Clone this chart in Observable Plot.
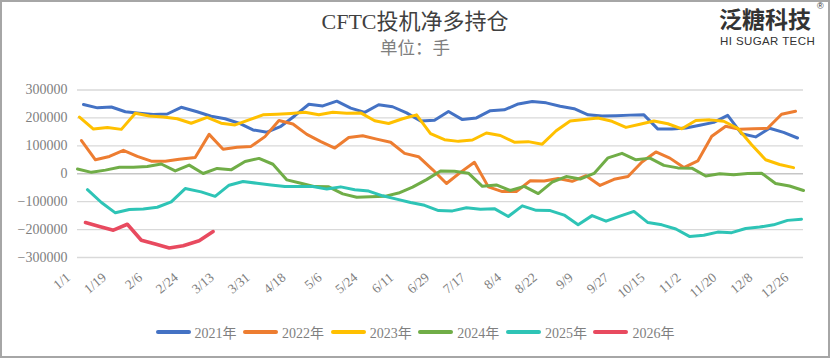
<!DOCTYPE html>
<html><head><meta charset="utf-8">
<script src="https://cdn.jsdelivr.net/npm/d3@7"></script>
<script src="https://cdn.jsdelivr.net/npm/@observablehq/plot@0.6"></script>
<style>
html,body{margin:0;padding:0;background:#fff;}
#frame{position:relative;width:830px;height:358px;overflow:hidden;background:#fff;}
#border{position:absolute;left:0;top:0;width:830px;height:358px;box-sizing:border-box;border:2px solid #a6a6a6;pointer-events:none;z-index:5;}
#title{position:absolute;left:0;width:830px;top:9px;text-align:center;font-family:"Liberation Serif","Noto Sans CJK SC",serif;font-size:22px;line-height:26px;color:#404040;}
#subtitle{position:absolute;left:0;width:830px;top:38px;text-align:center;font-family:"Liberation Serif","Noto Sans CJK SC",serif;font-size:17.5px;line-height:20px;color:#7f7f7f;}
#logo1{position:absolute;left:719px;top:6px;font-family:"Noto Sans CJK SC",sans-serif;font-weight:bold;font-size:23px;line-height:24px;color:#333;}
#logo2{position:absolute;left:720px;top:35px;font-family:"Liberation Sans",Arial,sans-serif;font-size:11.5px;line-height:12px;color:#333;letter-spacing:0.4px;}
#reg{position:absolute;left:817px;top:1px;font-family:"Liberation Sans",sans-serif;font-size:9px;line-height:10px;color:#333;}
#chart{position:absolute;left:0;top:60px;}
#legend{position:absolute;left:0;width:830px;top:323px;height:18px;display:flex;justify-content:center;align-items:center;font-family:"Liberation Serif","Noto Sans CJK SC",serif;font-size:14px;color:#7f7f7f;}
.item{display:flex;align-items:center;margin:0 3.3px;}
.sw{display:inline-block;width:35px;height:4px;border-radius:2px;margin-right:4px;}
</style></head>
<body>
<div id="frame">
  <div id="title">CFTC投机净多持仓</div>
  <div id="subtitle">单位：手</div>
  <div id="logo1">泛糖科技</div>
  <div id="logo2">HI SUGAR TECH</div>
  <div id="reg">®</div>
  <div id="chart"></div>
  <div id="legend"></div>
  <div id="border"></div>
</div>
<script>
const years = ["2021年","2022年","2023年","2024年","2025年","2026年"];
const colors = ["#4472C4","#ED7D31","#FFC000","#70AD47","#2EC4B6","#E84A5F"];
const startDates = ["2021-01-05","2022-01-04","2023-01-03","2024-01-02","2025-01-07","2026-01-06"];
const xTickLabels = ["1/1","1/19","2/6","2/24","3/13","3/31","4/18","5/6","5/24","6/11","6/29","7/17","8/4","8/22","9/9","9/27","10/15","11/2","11/20","12/8","12/26"];
const yTicks = [-300000,-200000,-100000,0,100000,200000,300000];

const v2021 = [248000,236000,239000,222000,217000,212000,214000,238000,222000,206000,197000,181000,157000,149000,170000,208000,249000,243000,260000,235000,220000,247000,240000,218000,189000,192000,223000,194000,200000,226000,229000,250000,259000,254000,242000,233000,211000,207000,208000,210000,211000,160000,160000,164000,174000,184000,209000,143000,132000,163000,148000,128000];
const v2022 = [119000,50000,62000,84000,62000,45000,45000,52000,58000,141000,88000,95000,98000,133000,191000,178000,141000,115000,92000,130000,136000,124000,113000,73000,61000,15000,-35000,5000,41000,-47000,-64000,-64000,-25000,-26000,-17000,-27000,-7000,-42000,-20000,-10000,42000,78000,56000,22000,46000,134000,170000,159000,161000,163000,213000,224000];
const v2023 = [203000,160000,166000,159000,217000,207000,203000,197000,181000,202000,181000,175000,193000,211000,213000,216000,220000,211000,220000,217000,218000,190000,180000,197000,211000,144000,122000,116000,121000,146000,137000,113000,115000,106000,154000,189000,194000,200000,188000,166000,177000,189000,179000,161000,191000,193000,188000,163000,104000,50000,33000,22000];
const v2024 = [17000,5000,13000,23000,23000,26000,35000,10000,31000,1000,19000,14000,44000,55000,34000,-22000,-34000,-46000,-47000,-72000,-84000,-82000,-81000,-69000,-48000,-21000,10000,9000,2000,-45000,-40000,-60000,-45000,-71000,-30000,-10000,-19000,1000,57000,73000,50000,56000,30000,21000,20000,-8000,0,-4000,1000,2000,-35000,-44000,-60000];
const v2025 = [-57000,-103000,-140000,-128000,-126000,-120000,-101000,-53000,-65000,-81000,-41000,-28000,-34000,-40000,-46000,-46000,-46000,-55000,-47000,-57000,-62000,-79000,-91000,-103000,-113000,-132000,-133000,-122000,-127000,-125000,-153000,-115000,-131000,-132000,-148000,-183000,-150000,-170000,-152000,-135000,-175000,-183000,-198000,-225000,-220000,-209000,-211000,-196000,-191000,-183000,-167000,-163000];
const v2026 = [-175000,-189000,-202000,-181000,-238000,-252000,-266000,-258000,-240000,-207000];

const seriesValues = [v2021,v2022,v2023,v2024,v2025,v2026];
const baseYear = 2024;
const rows = [];
seriesValues.forEach((vals,k) => {
  const start = new Date(startDates[k] + "T00:00:00Z");
  vals.forEach((v,i) => {
    const d = d3.utcDay.offset(start, 7*i);
    rows.push({year: years[k], date: new Date(Date.UTC(baseYear, d.getUTCMonth(), d.getUTCDate())), value: v});
  });
});
const tickDates = xTickLabels.map(s => { const [m,d] = s.split("/").map(Number); return new Date(Date.UTC(baseYear, m-1, d)); });

const chart = Plot.plot({
  width: 830, height: 250,
  marginLeft: 75, marginRight: 27, marginTop: 29.5, marginBottom: 53,
  style: {fontFamily: "'Liberation Serif', serif", fontSize: "14px", color: "#7f7f7f", background: "transparent", overflow: "visible"},
  x: {type: "utc", domain: [new Date(Date.UTC(baseYear,0,1)), new Date(Date.UTC(baseYear,11,31))]},
  y: {domain: [-300000, 300000]},
  color: {domain: years, range: colors},
  marks: [
    Plot.ruleY(yTicks, {stroke: d => d === 0 ? "#c6c6c6" : "#d9d9d9", strokeWidth: 1.3, insetLeft: 2}),
    Plot.axisY({ticks: yTicks, tickFormat: d3.format("d"), tickSize: 0, tickPadding: 8, label: null, fontSize: 14}),
    Plot.axisX({ticks: tickDates, tickFormat: d3.utcFormat("%-m/%-d"), tickRotate: -40, tickSize: 0, tickPadding: 18, dx: -7, label: null, fontSize: 13.5}),
    Plot.line(rows.filter(r => r.year !== "2026年"), {x: "date", y: "value", z: "year", stroke: "year", strokeWidth: 3, strokeLinejoin: "round", strokeLinecap: "round"}),
    Plot.line(rows.filter(r => r.year === "2026年"), {x: "date", y: "value", z: "year", stroke: "year", strokeWidth: 3.6, strokeLinejoin: "round", strokeLinecap: "round"})
  ]
});
document.getElementById("chart").appendChild(chart);

const legend = document.getElementById("legend");
years.forEach((y,k) => {
  const it = document.createElement("div"); it.className = "item";
  const sw = document.createElement("span"); sw.className = "sw"; sw.style.background = colors[k];
  const tx = document.createElement("span"); tx.textContent = y;
  it.appendChild(sw); it.appendChild(tx); legend.appendChild(it);
});
</script>
</body></html>
